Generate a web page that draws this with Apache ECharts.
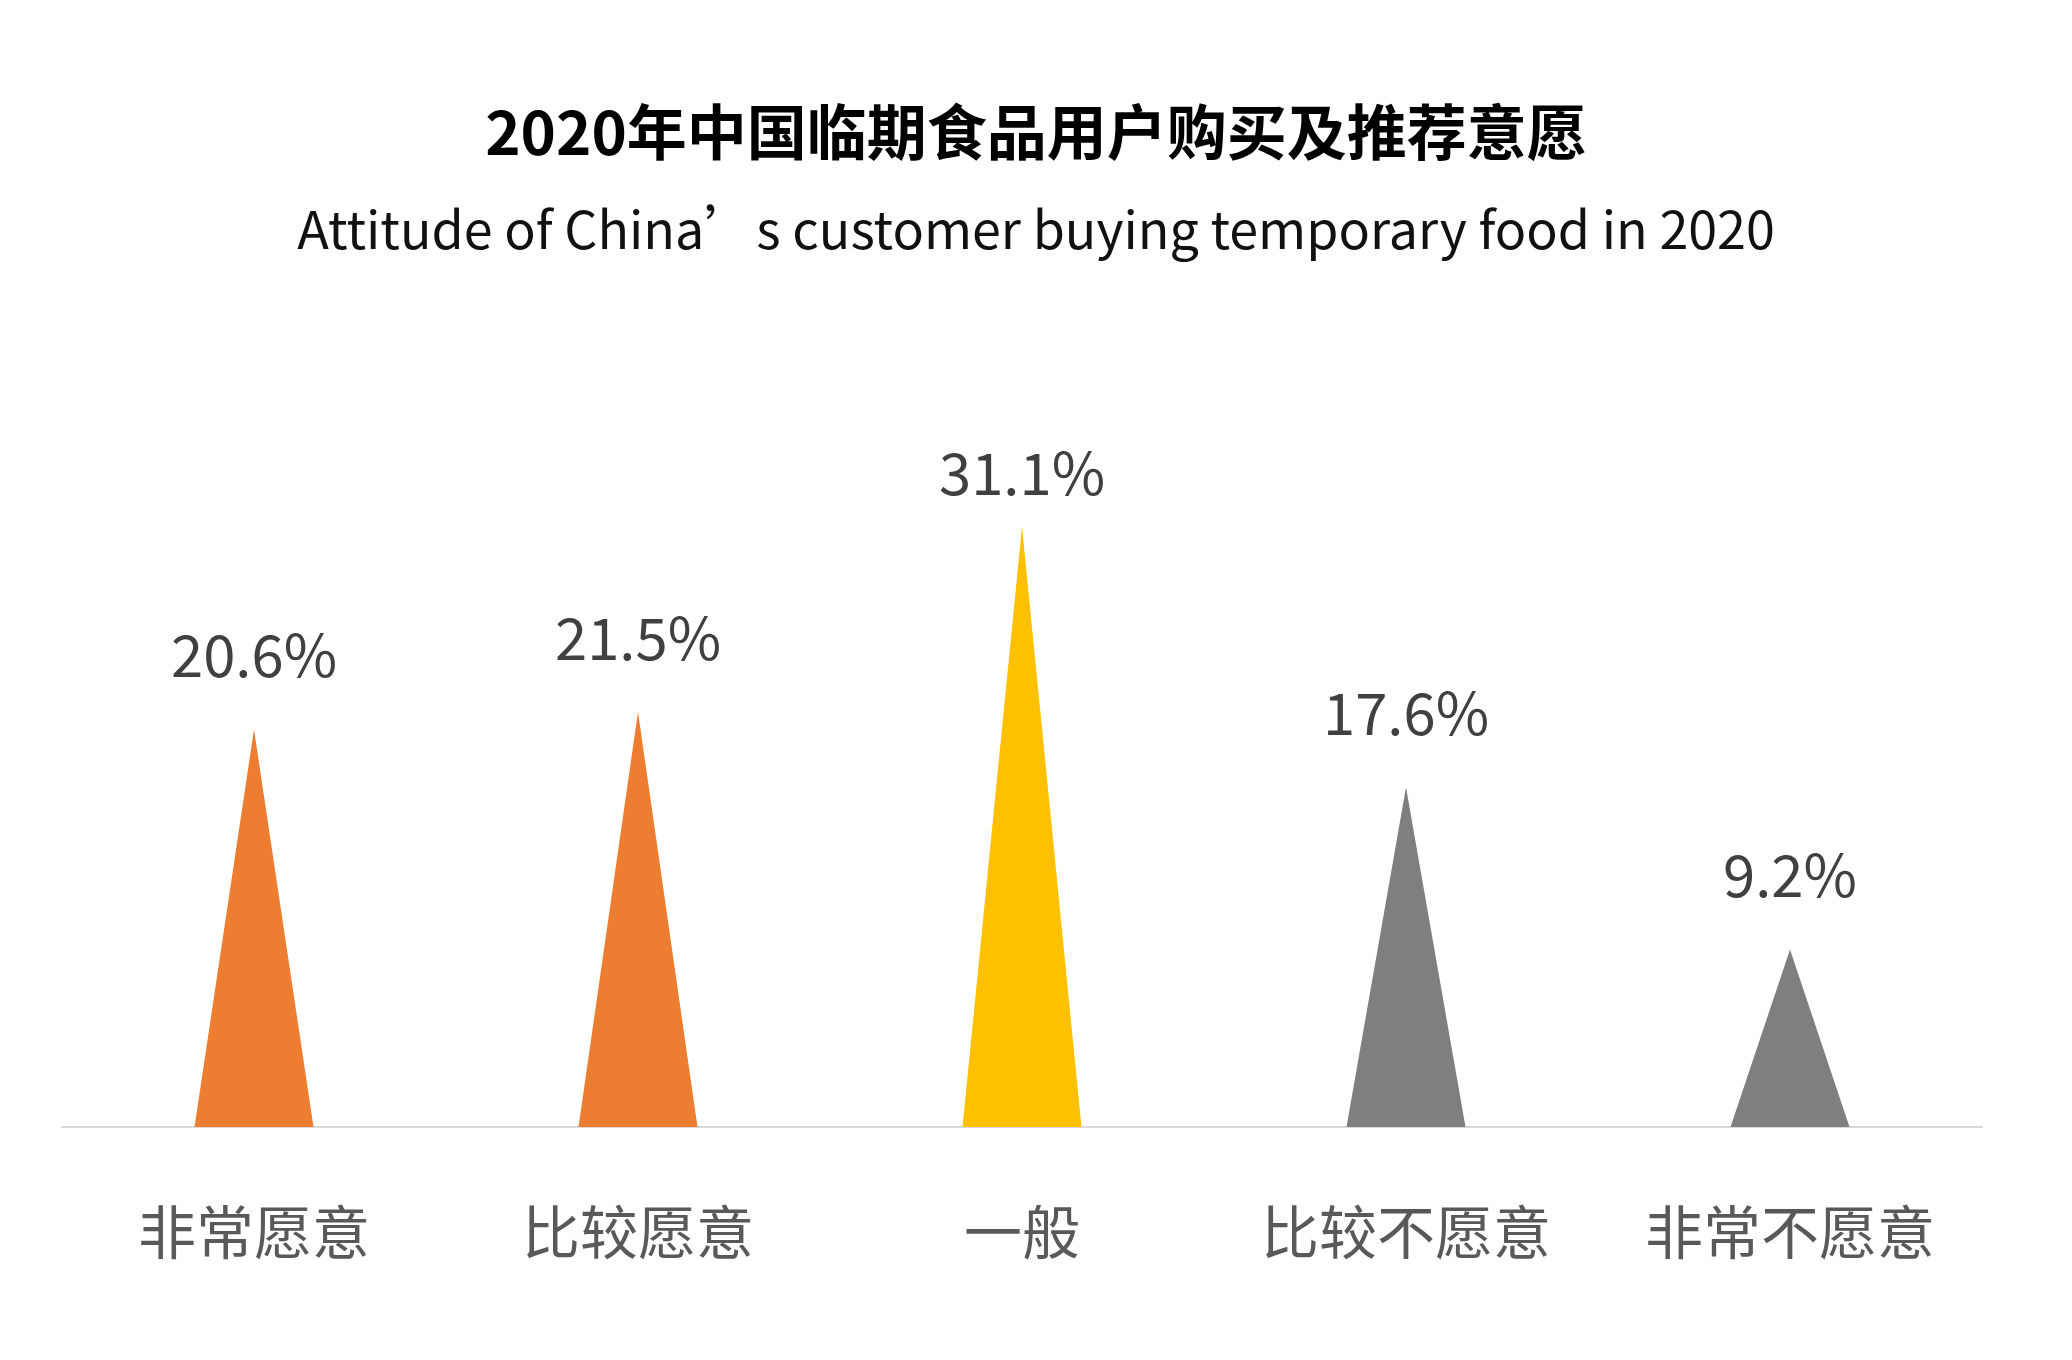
<!DOCTYPE html>
<html>
<head>
<meta charset="utf-8">
<script src="https://cdn.jsdelivr.net/npm/echarts@6/dist/echarts.min.js"></script>
<style>
html,body{margin:0;padding:0;background:#fff;}
#main{width:2072px;height:1360px;}
</style>
</head>
<body>
<div id="main"></div>
<script>
const titleText = '2020年中国临期食品用户购买及推荐意愿';
const subtitleText = 'Attitude of China’s customer buying temporary food in 2020';
const categories = ['非常愿意', '比较愿意', '一般', '比较不愿意', '非常不愿意'];
const values = [20.6, 21.5, 31.1, 17.6, 9.2];
const barColors = ['#ED7D31', '#ED7D31', '#FFC000', '#7F7F7F', '#7F7F7F'];

const FONT = '"Noto Sans CJK SC", "Noto Sans", sans-serif';
const chart = echarts.init(document.getElementById('main'), null, {renderer: 'canvas'});

const seriesData = values.map((v, i) => {
  const item = { value: v, itemStyle: { color: barColors[i] } };
  if (i === 2) item.label = { distance: 24 };
  return item;
});

chart.setOption({
  backgroundColor: '#ffffff',
  animation: false,
  title: [
    {
      text: titleText,
      left: 'center',
      top: 96,
      textStyle: { fontFamily: FONT, fontSize: 60, fontWeight: 'bold', color: '#000000', lineHeight: 62 }
    },
    {
      text: subtitleText,
      left: 'center',
      top: 197,
      textStyle: { fontFamily: FONT, fontSize: 52, fontWeight: 'normal', color: '#111111', lineHeight: 54 }
    }
  ],
  grid: { left: 62, right: 90, top: 355, bottom: 233, containLabel: false },
  xAxis: {
    type: 'category',
    data: categories,
    axisLine: { show: true, lineStyle: { color: '#D9D9D9', width: 2 } },
    axisTick: { show: false },
    axisLabel: { margin: 75, fontFamily: FONT, fontSize: 58, color: '#595959', lineHeight: 60 }
  },
  yAxis: {
    type: 'value',
    min: 0,
    max: 40,
    interval: 10,
    show: false,
    splitLine: { show: false }
  },
  series: [{
    type: 'pictorialBar',
    symbol: 'triangle',
    symbolSize: [119, '100%'],
    data: seriesData,
    label: {
      show: true,
      position: 'top',
      distance: 44,
      formatter: p => p.value.toFixed(1) + '%',
      fontFamily: FONT,
      fontSize: 58,
      color: '#404040',
      lineHeight: 60
    }
  }]
});
</script>
</body>
</html>
